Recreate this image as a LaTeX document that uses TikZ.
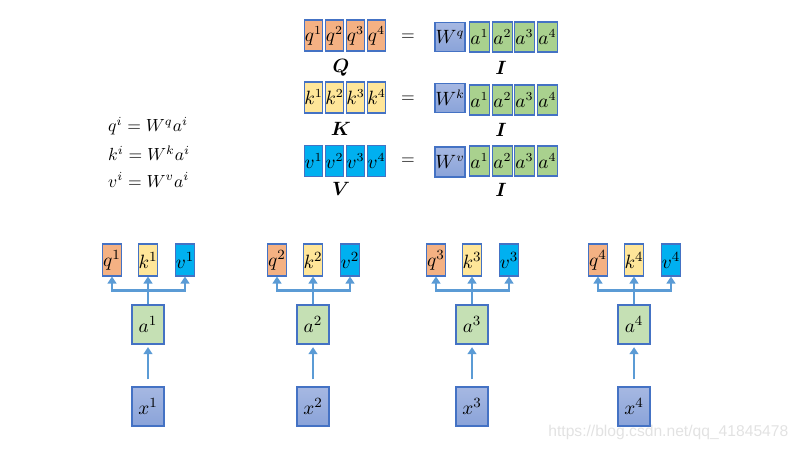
\documentclass[tikz,border=0pt]{standalone}
\usepackage{amsmath,bm}
\usepackage{fontspec}
\newfontfamily\wmfont{Liberation Sans}
\usetikzlibrary{arrows.meta,calc}
\definecolor{qc}{HTML}{F4B183}
\definecolor{kc}{HTML}{FFE699}
\definecolor{vc}{HTML}{00B0F0}
\definecolor{ac}{HTML}{A9D18E}
\definecolor{alc}{HTML}{C5E0B4}
\definecolor{wtop}{HTML}{A6B8E2}
\definecolor{wbot}{HTML}{8AA3D9}
\definecolor{bd}{HTML}{4472C4}
\definecolor{arrc}{HTML}{5B9BD5}
\definecolor{wm}{HTML}{E2E2E2}
\begin{document}
\begin{tikzpicture}[x=0.02cm,y=-0.02cm,
  every node/.style={font=\fontsize{10}{12}\selectfont},
  cell/.style={draw=bd,line width=0.6pt,inner sep=0pt,minimum width=0.36cm,minimum height=0.62cm,font=\fontsize{10.5}{12}\selectfont},
  acell/.style={cell,fill=ac,minimum width=0.39cm,minimum height=0.6cm},
  wcell/.style={draw=bd,line width=0.6pt,inner sep=0pt,minimum width=0.6cm,minimum height=0.58cm,top color=wtop,bottom color=wbot,font=\fontsize{10.5}{12}\selectfont},
  bcell/.style={cell,minimum width=0.38cm,minimum height=0.64cm,font=\fontsize{11}{12}\selectfont},
  abox/.style={draw=bd,line width=0.6pt,inner sep=0pt,fill=alc,minimum width=0.64cm,minimum height=0.78cm,font=\fontsize{11}{12}\selectfont},
  xbox/.style={draw=bd,line width=0.6pt,inner sep=0pt,minimum width=0.64cm,minimum height=0.78cm,top color=wtop,bottom color=wbot,font=\fontsize{11}{12}\selectfont},
  arr/.style={draw=arrc,line width=1.3pt,-{Triangle[width=5pt,length=4pt]}},
  lbl/.style={font=\fontsize{10.5}{12}\selectfont}
]
\useasboundingbox (0,0) rectangle (800,450);

% top matrices
\foreach \i/\x in {1/313.5,2/334.5,3/355.5,4/376.5} {
  \node[cell,fill=qc] (Q\i) at (\x,35.5) {$q^{\i}$};
  \node[cell,fill=kc] (K\i) at (\x,97.5) {$k^{\i}$};
  \node[cell,fill=vc] (V\i) at (\x,161) {$v^{\i}$};
}
\foreach \i/\x in {1/479.5,2/502.5,3/524.5,4/547.5} {
  \node[acell] (A\i) at (\x,37) {$a^{\i}$};
  \node[acell] (B\i) at (\x,100) {$a^{\i}$};
  \node[acell] (C\i) at (\x,161) {$a^{\i}$};
}
\node[wcell] (Wq) at (450,37) {$W^q$};
\node[wcell] (Wk) at (450,98) {$W^k$};
\node[wcell,minimum height=0.6cm] (Wv) at (450,162) {$W^v$};
\node (eq1) at (408,37) {$=$};
\node (eq2) at (408,99) {$=$};
\node (eq3) at (408,161) {$=$};
\node[lbl] (lQ) at (341,68) {$\bm{Q}$};
\node[lbl] (lI1) at (501,68) {$\bm{I}$};
\node[lbl] (lK) at (341,129) {$\bm{K}$};
\node[lbl] (lI2) at (501,130) {$\bm{I}$};
\node[lbl] (lV) at (341,189) {$\bm{V}$};
\node[lbl] (lI3) at (501,190) {$\bm{I}$};

% equations
\node[anchor=west] (e1) at (102,126) {$q^i = W^q a^i$};
\node[anchor=west] (e2) at (102,153) {$k^i = W^k a^i$};
\node[anchor=west] (e3) at (102,180) {$v^i = W^v a^i$};

% bottom groups
\foreach \i/\c in {1/148,2/313,3/472,4/634} {
  \node[bcell,fill=qc] (q\i) at (\c-36,260) {$q^{\i}$};
  \node[bcell,fill=kc] (k\i) at (\c,260) {$k^{\i}$};
  \node[bcell,fill=vc] (v\i) at (\c+37,260) {$v^{\i}$};
  \node[abox] (a\i) at (\c,324.5) {$a^{\i}$};
  \node[xbox] (x\i) at (\c,406.5) {$x^{\i}$};
  \coordinate (bus\i) at ($(a\i.north)+(0,-14)$);
  \draw[arr,shorten <=4pt,shorten >=1.5pt] (x\i.north) -- (a\i.south);
  \draw[arr] (a\i.north) -- (k\i.south);
  \draw[arr] (a\i.north) -- (bus\i) -| (q\i.south);
  \draw[arr] (a\i.north) -- (bus\i) -| (v\i.south);
}

% watermark
\node[anchor=west,text=wm,inner sep=0pt,font=\wmfont\fontsize{8.9}{10}\selectfont] (wmk) at (548,432) {https://blog.csdn.net/qq\_41845478};
\end{tikzpicture}
\end{document}
